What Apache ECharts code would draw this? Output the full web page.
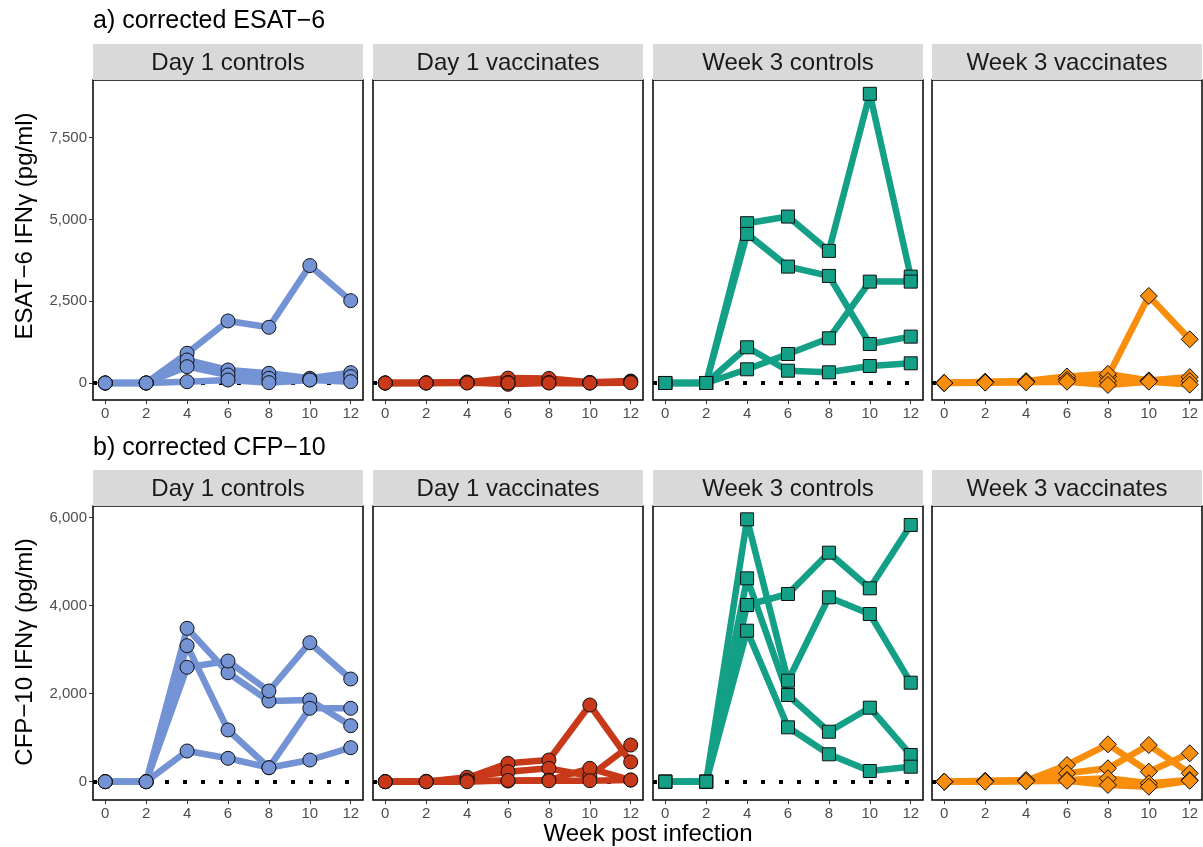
<!DOCTYPE html>
<html>
<head>
<meta charset="utf-8">
<script src="https://cdn.jsdelivr.net/npm/echarts@6/dist/echarts.min.js"></script>
<style>
  html, body { margin: 0; padding: 0; background: #ffffff; }
  #chart { width: 1203px; height: 847px; }
</style>
</head>
<body>
<div id="chart"></div>
<script>
// Sampling weeks after infection
const weeks = [0, 2, 4, 6, 8, 10, 12];
const weekTicks = [0, 2, 4, 6, 8, 10, 12];

// Facet groups
const groups = ['Day 1 controls', 'Day 1 vaccinates', 'Week 3 controls', 'Week 3 vaccinates'];
const groupColors = ['#7393d5', '#c8391a', '#13a086', '#f98e0c'];
const groupSymbols = ['circle', 'circle', 'rect', 'diamond'];
const groupSymbolSizes = [14, 14, 13, 17];

// Corrected ESAT-6 IFN-gamma (pg/ml), one row per animal
const esatDay1Controls = [
  [0, 0, 909, 1897, 1704, 3590, 2518],
  [0, 0, 704, 398, 296, 143, 316],
  [0, 0, 499, 245, 143, 92, 194],
  [0, 0, 40, 92, 10, 92, 40]
];
const esatDay1Vaccinates = [
  [0, 0, 20, 150, 140, 20, 60],
  [0, 10, 30, -40, 10, 0, 40],
  [0, 0, 10, 20, 10, 0, 30],
  [0, 0, 0, 0, 0, 0, 10]
];
const esatWeek3Controls = [
  [0, 0, 4887, 5089, 4039, 8843, 3253],
  [0, 0, 4559, 3559, 3274, 1193, 1417],
  [0, 0, 419, 887, 1367, 3100, 3100],
  [0, 0, 1092, 376, 327, 520, 602]
];
const esatWeek3Vaccinates = [
  [0, 30, 40, 120, 200, 2662, 1336],
  [0, 40, 60, 200, 280, 80, 180],
  [0, 20, 30, 100, 60, 60, 60],
  [0, 10, 20, 40, -60, 40, -50]
];

// Corrected CFP-10 IFN-gamma (pg/ml), one row per animal
const cfpDay1Controls = [
  [0, 0, 3486, 2477, 1834, 1857, 1273],
  [0, 0, 2600, 2743, 2061, 3159, 2334],
  [0, 0, 3091, 1175, 318, 1668, 1668],
  [0, 0, 698, 532, 318, 493, 773]
];
const cfpDay1Vaccinates = [
  [0, 0, 80, 418, 493, 1743, 448],
  [0, 0, 100, 227, 304, 129, 834],
  [0, 10, 30, 15, 38, 304, 38],
  [0, 0, 0, 30, 20, 23, 38]
];
const cfpWeek3Controls = [
  [0, 0, 4016, 4266, 5205, 4395, 5834],
  [0, 0, 5963, 2295, 4191, 3811, 2250],
  [0, 0, 4622, 1970, 1136, 1682, 607],
  [0, 0, 3432, 1236, 623, 243, 341]
];
const cfpWeek3Vaccinates = [
  [0, 10, 20, 380, 850, 227, 645],
  [0, 20, 30, 190, 304, 834, 190],
  [0, 10, 40, 38, 77, -36, 38],
  [0, 0, 10, 20, -75, -114, 20]
];

const esatTicks = [0, 2500, 5000, 7500];
const cfpTicks = [0, 2000, 4000, 6000];

const panelTitles = ['a) corrected ESAT\u22126', 'b) corrected CFP\u221210'];
const yTitles = ['ESAT\u22126 IFN\u03b3 (pg/ml)', 'CFP\u221210 IFN\u03b3 (pg/ml)'];
const xTitle = 'Week post infection';

// ---- layout ----
const FONT = '"Liberation Sans", Arial, Helvetica, sans-serif';
const colLeft = [93, 373, 653, 932];
const panelW = 270;
const rows = [
  { title: panelTitles[0], titleY: 23, stripTop: 44, top: 80, height: 320, yMin: -520, yMax: 9265,
    ticks: esatTicks, yTitle: yTitles[0], yTitleY: 226,
    data: [esatDay1Controls, esatDay1Vaccinates, esatWeek3Controls, esatWeek3Vaccinates] },
  { title: panelTitles[1], titleY: 450, stripTop: 470, top: 506, height: 294, yMin: -416, yMax: 6266,
    ticks: cfpTicks, yTitle: yTitles[1], yTitleY: 652,
    data: [cfpDay1Controls, cfpDay1Vaccinates, cfpWeek3Controls, cfpWeek3Vaccinates] }
];

const grids = [], xAxes = [], yAxes = [], series = [], graphics = [];
const fmt = v => Math.round(v).toLocaleString('en-US');

rows.forEach((row, r) => {
  graphics.push({
    type: 'text', left: colLeft[0], top: row.titleY - 14,
    style: { text: row.title, font: '25px ' + FONT, fill: '#000000' }
  });
  graphics.push({
    type: 'text', x: 25, y: row.yTitleY, rotation: Math.PI / 2,
    style: { text: row.yTitle, font: '24px ' + FONT, fill: '#000000', align: 'center', verticalAlign: 'middle' }
  });

  groups.forEach((g, c) => {
    const idx = r * 4 + c;
    grids.push({
      left: colLeft[c], top: row.top, width: panelW, height: row.height,
      show: true, borderColor: '#000000', borderWidth: 1.5, backgroundColor: '#ffffff'
    });
    // strip header
    graphics.push({
      type: 'rect', shape: { x: colLeft[c], y: row.stripTop, width: panelW, height: row.top - row.stripTop },
      style: { fill: '#d9d9d9' }, z: 0
    });
    graphics.push({
      type: 'text', x: colLeft[c] + panelW / 2, y: row.stripTop + (row.top - row.stripTop) / 2 + 1,
      style: { text: g, font: '24px ' + FONT, fill: '#1a1a1a', align: 'center', verticalAlign: 'middle' }
    });

    xAxes.push({
      type: 'value', gridIndex: idx, min: -0.6, max: 12.6, position: 'bottom',
      axisLine: { show: false, onZero: false },
      splitLine: { show: false },
      axisTick: { show: true, length: 4, customValues: weekTicks, lineStyle: { color: '#333333', width: 1 } },
      axisLabel: { show: true, customValues: weekTicks, margin: 6, color: '#4d4d4d', fontSize: 15, fontFamily: FONT }
    });
    yAxes.push({
      type: 'value', gridIndex: idx, min: row.yMin, max: row.yMax, position: 'left',
      axisLine: { show: false, onZero: false },
      splitLine: { show: false },
      axisTick: { show: c === 0, length: 4, customValues: row.ticks, lineStyle: { color: '#333333', width: 1 } },
      axisLabel: { show: c === 0, customValues: row.ticks, margin: 6, color: '#4d4d4d', fontSize: 15,
                   fontFamily: FONT, formatter: fmt }
    });

    // dotted zero reference
    series.push({
      type: 'line', xAxisIndex: idx, yAxisIndex: idx, data: [], silent: true, z: 2,
      markLine: {
        silent: true, symbol: 'none', animation: false, z: 2,
        label: { show: false },
        lineStyle: { color: '#000000', width: 4, type: [4, 14], cap: 'butt' },
        emphasis: { disabled: true },
        data: [{ yAxis: 0 }]
      }
    });

    const animals = row.data[c];
    animals.forEach(vals => {
      const pts = weeks.map((w, i) => [w, vals[i]]);
      series.push({
        type: 'line', xAxisIndex: idx, yAxisIndex: idx, data: pts,
        showSymbol: false, silent: true, z: 3, animation: false,
        lineStyle: { color: groupColors[c], width: 6.5, join: 'round', cap: 'butt' }
      });
    });
    animals.forEach(vals => {
      const pts = weeks.map((w, i) => [w, vals[i]]);
      series.push({
        type: 'scatter', xAxisIndex: idx, yAxisIndex: idx, data: pts,
        symbol: groupSymbols[c], symbolSize: groupSymbolSizes[c], silent: true, z: 4, animation: false,
        itemStyle: { color: groupColors[c], borderColor: '#111111', borderWidth: 1, opacity: 1 }
      });
    });
  });
});

graphics.push({
  type: 'text', x: 648, y: 834,
  style: { text: xTitle, font: '24px ' + FONT, fill: '#000000', align: 'center', verticalAlign: 'middle' }
});

const chart = echarts.init(document.getElementById('chart'), null, { renderer: 'canvas' });
chart.setOption({
  animation: false,
  backgroundColor: '#ffffff',
  grid: grids,
  xAxis: xAxes,
  yAxis: yAxes,
  series: series,
  graphic: { elements: graphics }
});
</script>
</body>
</html>
